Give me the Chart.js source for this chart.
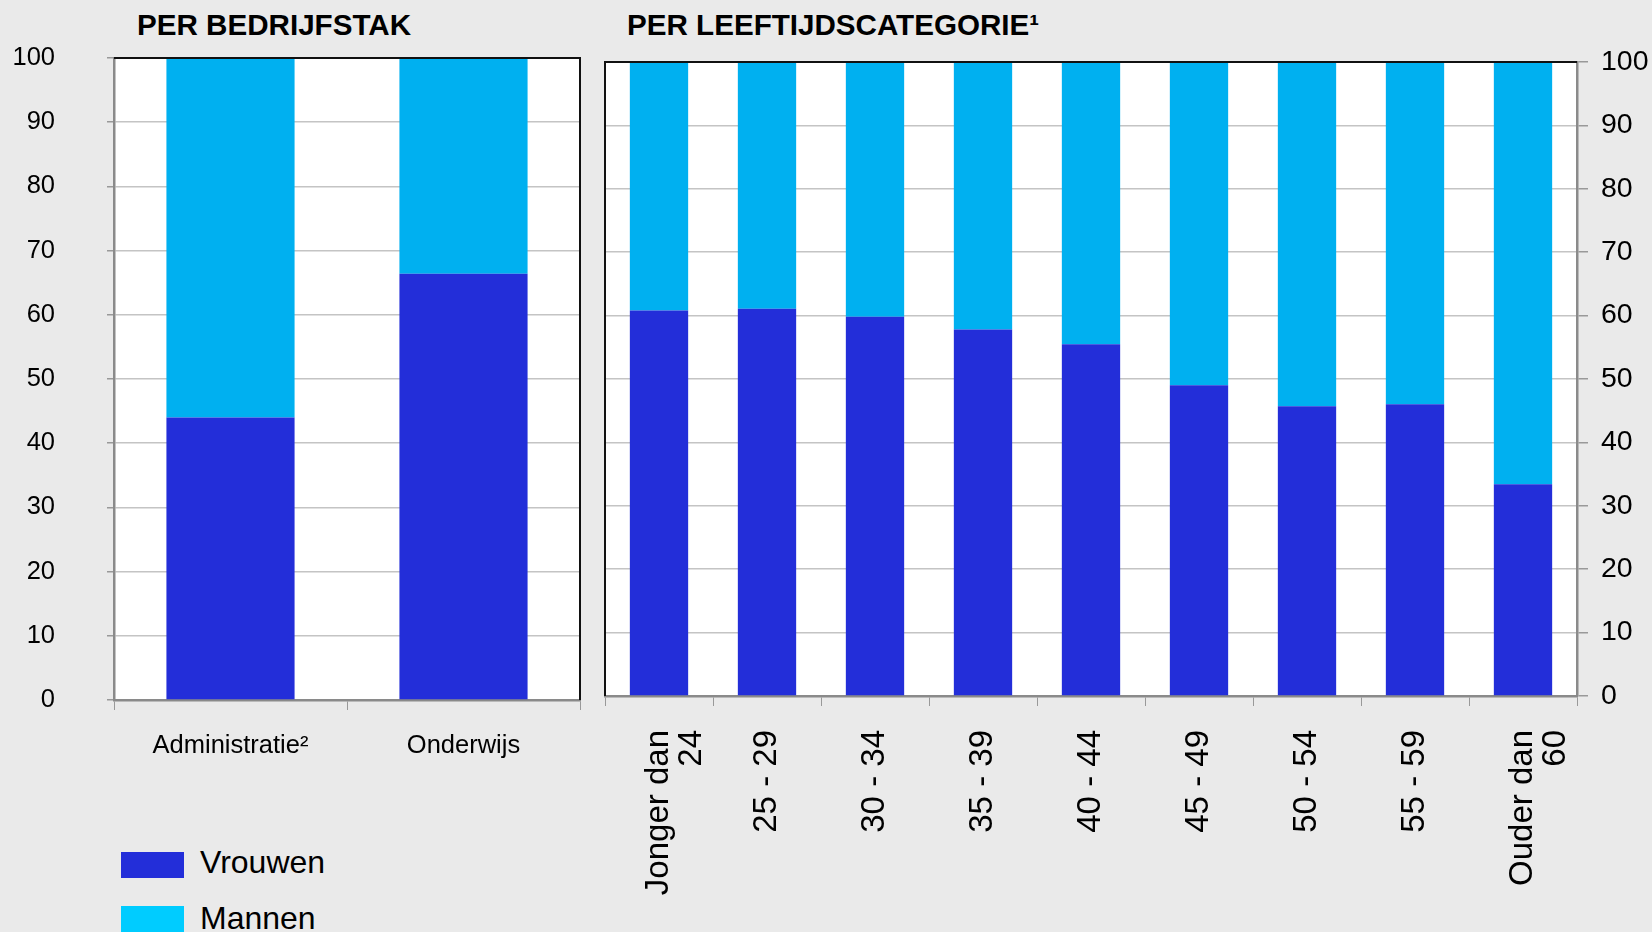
<!DOCTYPE html>
<html>
<head>
<meta charset="utf-8">
<script src="https://cdn.jsdelivr.net/npm/chart.js@4/dist/chart.umd.min.js"></script>
<style>
    body { margin: 0; background: #eaeaea; width: 1652px; height: 932px; overflow: hidden; position: relative;
           font-family: "Liberation Sans", Arial, sans-serif; color: #000; }
    .titel { position: absolute; top: 10px; font-weight: bold; font-size: 29.6px; line-height: 30px; }
    #grafiekBedrijfstak { position: absolute; left: 0; top: 0; }
    #grafiekLeeftijd { position: absolute; left: 595px; top: 0; }
    .legenda { position: absolute; left: 121px; font-size: 32px; line-height: 32px; white-space: nowrap; }
    .legenda span { display: inline-block; width: 63px; height: 26px; vertical-align: middle; margin-right: 16px; }
</style>
</head>
<body>
<div class="titel" style="left:137px">PER BEDRIJFSTAK</div>
<div class="titel" style="left:627px">PER LEEFTIJDSCATEGORIE¹</div>
<canvas id="grafiekBedrijfstak" width="595" height="800"></canvas>
<canvas id="grafiekLeeftijd" width="1057" height="932"></canvas>
<div class="legenda" style="top:846px"><span style="background:#232ed9"></span>Vrouwen</div>
<div class="legenda" style="top:902px"><span style="background:#00ccff;height:29px"></span>Mannen</div>

<script>
// --- dati ---
var categorieBedrijfstak = ['Administratie²', 'Onderwijs'];
var vrouwenBedrijfstak = [44.0, 66.4];
var mannenBedrijfstak = [56.0, 33.6];

var categorieLeeftijd = [['Jonger dan', '24'], '25 - 29', '30 - 34', '35 - 39', '40 - 44',
                         '45 - 49', '50 - 54', '55 - 59', ['Ouder dan', '60']];
var vrouwenLeeftijd = [60.8, 61.1, 59.8, 57.8, 55.5, 49.0, 45.7, 46.0, 33.4];
var mannenLeeftijd = [39.2, 38.9, 40.2, 42.2, 44.5, 51.0, 54.3, 54.0, 66.6];

var kleurVrouwen = '#232ed9';
var kleurMannen = '#00b0f0';
var font = '"Liberation Sans", Arial, sans-serif';

// sfondo bianco del plot + bordo nero (sopra e di lato)
var plotKader = {
    id: 'plotKader',
    beforeDraw: function (chart) {
        var a = chart.chartArea, ctx = chart.ctx;
        ctx.save();
        ctx.fillStyle = '#ffffff';
        ctx.fillRect(a.left, a.top, a.right - a.left, a.bottom - a.top);
        ctx.restore();
    },
    afterDatasetsDraw: function (chart, args, opts) {
        var a = chart.chartArea, ctx = chart.ctx;
        var zijX = opts.zijde === 'rechts' ? a.right : a.left;
        var andereX = opts.zijde === 'rechts' ? a.left : a.right;
        ctx.save();
        ctx.strokeStyle = '#111';
        ctx.lineWidth = 2;
        ctx.beginPath();
        ctx.moveTo(zijX, a.bottom);
        ctx.lineTo(zijX, a.top);
        ctx.lineTo(andereX, a.top);
        ctx.stroke();
        ctx.restore();
    }
};

Chart.defaults.font.family = font;
Chart.defaults.color = '#000';

// --- PRIMO GRAFICO: PER BEDRIJFSTAK ---
new Chart(document.getElementById('grafiekBedrijfstak').getContext('2d'), {
    type: 'bar',
    data: {
        labels: categorieBedrijfstak,
        datasets: [
            { label: 'Vrouwen', data: vrouwenBedrijfstak, backgroundColor: kleurVrouwen },
            { label: 'Mannen', data: mannenBedrijfstak, backgroundColor: kleurMannen }
        ]
    },
    options: {
        responsive: false,
        animation: false,
        layout: { padding: { top: 58, right: 15, left: 0, bottom: 0 } },
        datasets: { bar: { barPercentage: 0.55, categoryPercentage: 1 } },
        plugins: {
            legend: { display: false },
            tooltip: { enabled: false },
            plotKader: { zijde: 'rechts' }
        },
        scales: {
            x: {
                stacked: true,
                afterFit: function (s) { s.height = 100; },
                grid: { drawOnChartArea: false, color: '#999', tickLength: 10 },
                border: { color: '#8a8a8a', width: 2.5 },
                ticks: { maxRotation: 0, padding: 21, font: { size: 25.5 } }
            },
            y: {
                stacked: true,
                min: 0,
                max: 100,
                afterFit: function (s) { s.width = 114; },
                grid: { color: '#c4c4c4', lineWidth: 1.5, tickColor: '#999', tickLength: 7 },
                border: { color: '#8a8a8a', width: 2.5 },
                // lineHeight klein: de grote padding duwt anders het plotgebied omlaag
                ticks: { stepSize: 10, padding: 52, font: { size: 25.5, lineHeight: 0.2 } }
            }
        }
    },
    plugins: [plotKader]
});

// --- SECONDO GRAFICO: PER LEEFTIJDSCATEGORIE ---
new Chart(document.getElementById('grafiekLeeftijd').getContext('2d'), {
    type: 'bar',
    data: {
        labels: categorieLeeftijd,
        datasets: [
            { label: 'Vrouwen', data: vrouwenLeeftijd, backgroundColor: kleurVrouwen },
            { label: 'Mannen', data: mannenLeeftijd, backgroundColor: kleurMannen }
        ]
    },
    options: {
        responsive: false,
        animation: false,
        layout: { padding: { top: 62, right: 0, left: 10, bottom: 0 } },
        datasets: { bar: { barPercentage: 0.54, categoryPercentage: 1 } },
        plugins: {
            legend: { display: false },
            tooltip: { enabled: false },
            plotKader: { zijde: 'links' }
        },
        scales: {
            x: {
                stacked: true,
                afterFit: function (s) { s.height = 236; },
                grid: { drawOnChartArea: false, color: '#999', tickLength: 10 },
                border: { color: '#8a8a8a', width: 2.5 },
                ticks: { minRotation: 90, maxRotation: 90, autoSkip: false, padding: 24,
                         font: { size: 33, lineHeight: 1.0 } }
            },
            y: {
                stacked: true,
                position: 'right',
                min: 0,
                max: 100,
                afterFit: function (s) { s.width = 75; },
                grid: { color: '#c4c4c4', lineWidth: 1.5, tickColor: '#999', tickLength: 11 },
                border: { color: '#8a8a8a', width: 2.5 },
                ticks: { stepSize: 10, padding: 13, font: { size: 28.5 } }
            }
        }
    },
    plugins: [plotKader]
});
</script>
</body>
</html>
